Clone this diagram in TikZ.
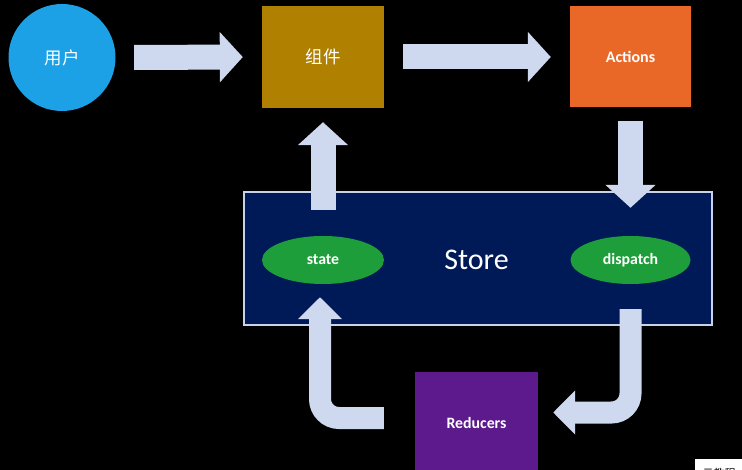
\documentclass[tikz,border=0pt]{standalone}
\usepackage{fontspec}
\setmainfont{Carlito}
\newfontfamily\cjk{Noto Sans CJK SC}
\usetikzlibrary{arrows.meta,shapes.geometric}
\definecolor{ublue}{RGB}{29,161,230}
\definecolor{ugold}{RGB}{176,128,0}
\definecolor{uorange}{RGB}{233,104,40}
\definecolor{upurple}{RGB}{92,26,140}
\definecolor{unavy}{RGB}{0,26,87}
\definecolor{ugreen}{RGB}{30,158,58}
\definecolor{uarrow}{RGB}{206,216,238}
\definecolor{uborder}{RGB}{200,210,234}
\tikzset{
  box/.style={rectangle, inner sep=0pt, text=white, font=\bfseries\fontsize{16}{20}\selectfont},
  oval/.style={ellipse, inner sep=0pt, fill=ugreen, text=white, font=\bfseries\fontsize{15.8}{20}\selectfont, minimum height=48pt},
  bigarrow/.style={draw=uarrow, line width=25pt, -{Triangle[length=23pt,width=49pt]}},
  bentarrow/.style={draw=uarrow, line width=22pt, rounded corners=19pt, -{Triangle[length=22pt,width=43pt]}}
}
\begin{document}
\begin{tikzpicture}[x=1pt,y=-1pt]
\useasboundingbox (0,0) rectangle (742,470);
\clip (0,0) rectangle (742,470);
\fill[black] (0,0) rectangle (742,470);
\node[circle, fill=ublue, minimum size=107pt, inner sep=0pt, text=white, font=\cjk\fontsize{17.5}{20}\selectfont] (user) at (62,57.5) {用户};
\node[box, fill=ugold, minimum width=122pt, minimum height=102pt, font=\cjk\fontsize{17.5}{20}\selectfont] (comp) at (323,57) {组件};
\node[box, fill=uorange, minimum width=121pt, minimum height=101pt] (actions) at (630.5,57) {Actions};
\node[rectangle, fill=unavy, draw=uborder, line width=1.2pt, minimum width=468pt, minimum height=133pt, inner sep=0pt] (store) at (478,258.5) {};
\node[text=white, font=\fontsize{30}{34}\selectfont] (storelbl) at (476.5,260) {Store};
\node[oval, minimum width=122pt] (state) at (323,260) {state};
\node[oval, minimum width=120pt] (dispatch) at (630.5,260) {dispatch};
\node[box, fill=upurple, minimum width=123pt, minimum height=104pt] (reducers) at (476.5,424) {};
\node[text=white, font=\bfseries\fontsize{15.8}{20}\selectfont] (reducerslbl) at (476.5,423) {Reducers};
% straight arrows
\draw[bigarrow, shorten <=18.5pt, shorten >=19pt] (user.east) -- (comp.west);
\draw[bigarrow, shorten <=19pt, shorten >=19pt] (comp.east) -- (actions.west);
\draw[bigarrow, shorten <=13pt, shorten >=28pt] (actions.south) -- (dispatch.north);
\draw[bigarrow, shorten <=26pt, shorten >=14pt] (state.north) -- (comp.south);
% bent arrows
\draw[bentarrow, shorten <=31pt, shorten >=13pt] ([yshift=6pt]reducers.west) -| ([xshift=-3pt]state.south);
\draw[bentarrow, shorten <=25pt, shorten >=15pt] (dispatch.south) |- ([yshift=11.5pt]reducers.east);
% watermark
\node[rectangle, fill=white, minimum width=48pt, minimum height=22pt, inner sep=0pt, anchor=north west, text=black, font=\cjk\fontsize{11}{13}\selectfont, text depth=0pt] (wm) at (695,459) {\raisebox{-6pt}{云教程}};
\end{tikzpicture}
\end{document}
